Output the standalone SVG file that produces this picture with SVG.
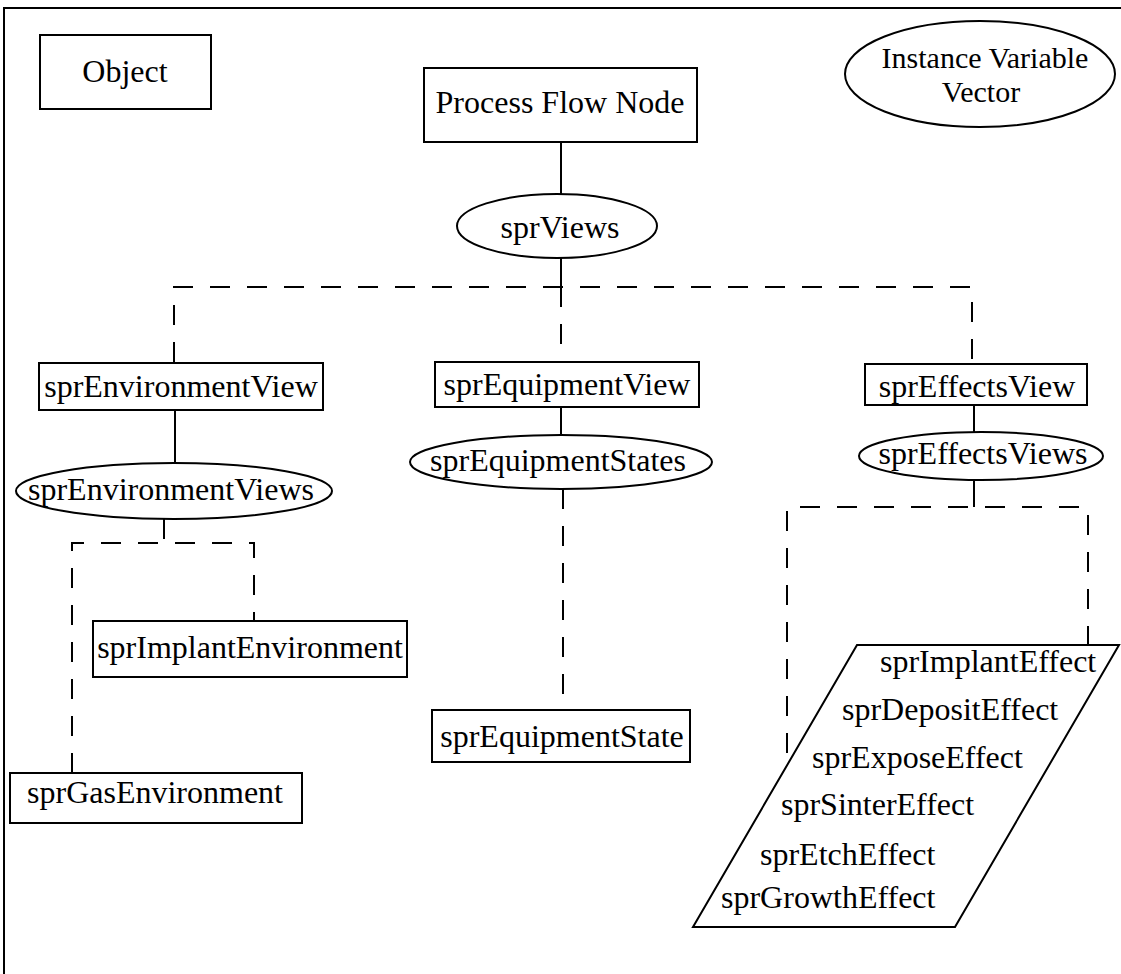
<svg xmlns="http://www.w3.org/2000/svg" width="1121" height="974" viewBox="0 0 1121 974">
  <style>
    .box { fill: #fff; stroke: #000; stroke-width: 2; }
    .lbl { font-family: "Liberation Serif", "Times New Roman", serif; font-size: 32px; fill: #000; }
    .mid { text-anchor: middle; }
    .small { font-size: 30px; }
    .solid { fill: none; stroke: #000; stroke-width: 2; }
    .dash { fill: none; stroke: #000; stroke-width: 2; stroke-dasharray: 20 17; }
  </style>
  <rect width="1121" height="974" fill="#fff"/>

  <!-- outer frame -->
  <path class="solid" d="M4 974 V8 H1121"/>

  <!-- connectors -->
  <g id="connectors">
    <line class="solid" x1="561" y1="142" x2="561" y2="194"/>
    <line class="solid" x1="561" y1="258" x2="561" y2="297"/>
    <path class="dash" d="M174 362 V287 H972 V364"/>
    <line class="dash" x1="561" y1="287" x2="561" y2="362"/>

    <line class="solid" x1="175" y1="410" x2="175" y2="463"/>
    <line class="dash" x1="164" y1="519" x2="164" y2="543"/>
    <path class="dash" d="M72 773 V543 H254 V621"/>

    <line class="solid" x1="561" y1="407" x2="561" y2="435"/>
    <line class="dash" x1="563" y1="489" x2="563" y2="710"/>

    <line class="solid" x1="974" y1="405" x2="974" y2="432"/>
    <line class="solid" x1="974" y1="480" x2="974" y2="507"/>
    <path class="dash" d="M787 753 V507 H1088 V645"/>
  </g>

  <g id="object">
    <rect class="box" x="40" y="35" width="171" height="74"/>
    <text class="lbl mid" x="125" y="82">Object</text>
  </g>

  <g id="process-flow-node">
    <rect class="box" x="424" y="68" width="273" height="74"/>
    <text class="lbl mid" x="560" y="113">Process Flow Node</text>
  </g>

  <g id="instance-variable-vector">
    <ellipse class="box" cx="980" cy="74" rx="135" ry="53"/>
    <text class="lbl mid small" x="985" y="68">Instance Variable</text>
    <text class="lbl mid small" x="981" y="102">Vector</text>
  </g>

  <g id="spr-views">
    <ellipse class="box" cx="557" cy="226" rx="100" ry="32"/>
    <text class="lbl mid" x="560" y="238">sprViews</text>
  </g>

  <g id="spr-environment-view">
    <rect class="box" x="39" y="363" width="284" height="47"/>
    <text class="lbl mid" x="181" y="397">sprEnvironmentView</text>
  </g>

  <g id="spr-environment-views">
    <ellipse class="box" cx="174" cy="491" rx="158" ry="28"/>
    <text class="lbl mid" x="171" y="500">sprEnvironmentViews</text>
  </g>

  <g id="spr-implant-environment">
    <rect class="box" x="93" y="621" width="314" height="56"/>
    <text class="lbl mid" x="250" y="658">sprImplantEnvironment</text>
  </g>

  <g id="spr-gas-environment">
    <rect class="box" x="10" y="773" width="292" height="50"/>
    <text class="lbl mid" x="155" y="803">sprGasEnvironment</text>
  </g>

  <g id="spr-equipment-view">
    <rect class="box" x="435" y="362" width="264" height="45"/>
    <text class="lbl mid" x="567" y="395">sprEquipmentView</text>
  </g>

  <g id="spr-equipment-states">
    <ellipse class="box" cx="561" cy="462" rx="151" ry="27"/>
    <text class="lbl mid" x="558" y="471">sprEquipmentStates</text>
  </g>

  <g id="spr-equipment-state">
    <rect class="box" x="432" y="710" width="258" height="52"/>
    <text class="lbl mid" x="562" y="747">sprEquipmentState</text>
  </g>

  <g id="spr-effects-view">
    <rect class="box" x="865" y="364" width="222" height="41"/>
    <text class="lbl mid" x="977" y="397">sprEffectsView</text>
  </g>

  <g id="spr-effects-views">
    <ellipse class="box" cx="981" cy="456" rx="122" ry="24"/>
    <text class="lbl mid" x="983" y="464">sprEffectsViews</text>
  </g>

  <g id="spr-effects">
    <polygon class="box" points="857,645 1119,645 955,927 693,927"/>
    <text class="lbl" x="880" y="672">sprImplantEffect</text>
    <text class="lbl" x="842" y="720">sprDepositEffect</text>
    <text class="lbl" x="812" y="768">sprExposeEffect</text>
    <text class="lbl" x="781" y="815">sprSinterEffect</text>
    <text class="lbl" x="760" y="865">sprEtchEffect</text>
    <text class="lbl" x="721" y="908">sprGrowthEffect</text>
  </g>
</svg>
